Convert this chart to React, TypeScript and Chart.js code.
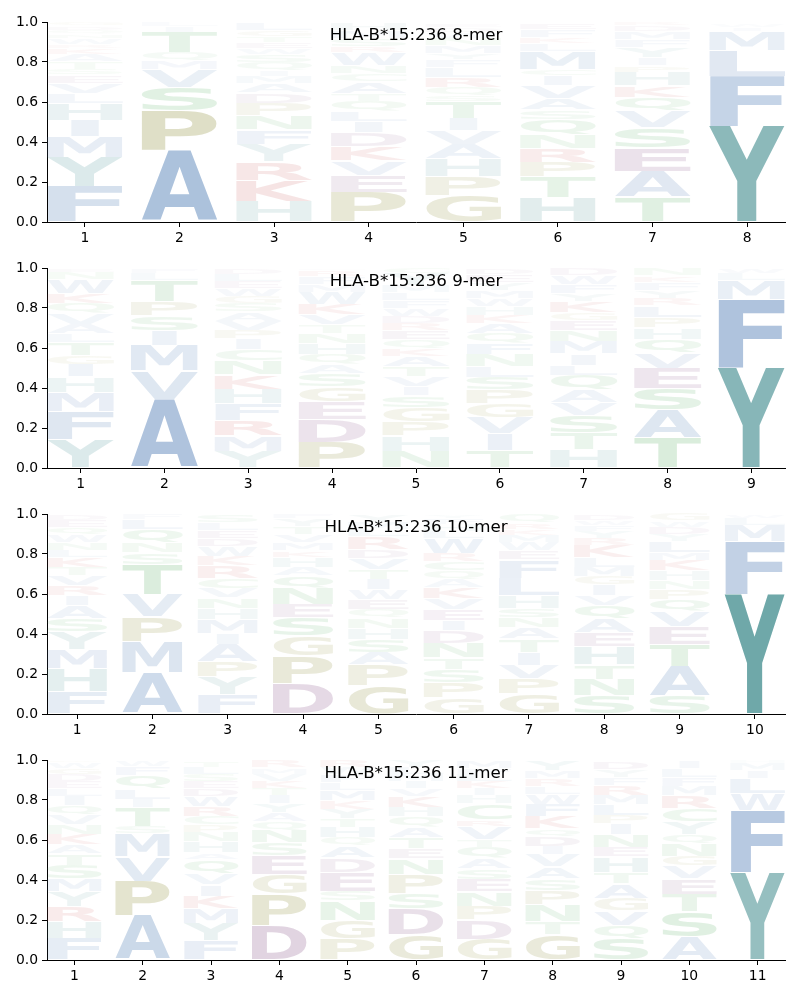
import React, { useEffect, useRef } from "react";
import { Chart, registerables } from "chart.js";

Chart.register(...registerables);

const ALLELE = "HLA-B*15:236";
const Y_TICKS = [0, 0.2, 0.4, 0.6, 0.8, 1.0];

// Each column: letters listed bottom -> top, with their heights (frequencies)
const LETTERS_8 = [
  "FYMIHLVESTAKRWNQDG",
  "APSVMQTIL",
  "HKRYFNPDAMIQSWETGL",
  "PEVKDILQTACNWRSMH",
  "GPHAVITSQRLFYMNWDE",
  "HTPRNQSAVICMLKFE",
  "TAESVQKHPIYFMDR",
  "YFLMIW",
];
const HEIGHTS_8 = [
  [0.18, 0.145, 0.105, 0.08, 0.085, 0.05, 0.05, 0.04, 0.03, 0.035, 0.04, 0.03, 0.02, 0.03, 0.02, 0.02, 0.02, 0.02],
  [0.355, 0.2, 0.12, 0.088, 0.045, 0.04, 0.1, 0.03, 0.022],
  [0.105, 0.105, 0.092, 0.087, 0.072, 0.072, 0.062, 0.05, 0.047, 0.037, 0.03, 0.04, 0.04, 0.03, 0.03, 0.03, 0.03, 0.04],
  [0.15, 0.085, 0.072, 0.072, 0.067, 0.058, 0.05, 0.05, 0.04, 0.058, 0.04, 0.04, 0.065, 0.03, 0.04, 0.04, 0.04],
  [0.133, 0.095, 0.087, 0.075, 0.067, 0.06, 0.083, 0.033, 0.042, 0.05, 0.047, 0.04, 0.033, 0.04, 0.035, 0.03, 0.025, 0.02],
  [0.122, 0.103, 0.075, 0.07, 0.068, 0.075, 0.047, 0.06, 0.062, 0.05, 0.033, 0.09, 0.04, 0.03, 0.04, 0.03],
  [0.125, 0.13, 0.118, 0.1, 0.083, 0.067, 0.058, 0.067, 0.033, 0.04, 0.05, 0.04, 0.04, 0.03, 0.02],
  [0.48, 0.25, 0.13, 0.095, 0.02, 0.015],
];

const LETTERS_9 = [
  "YFMHIGTLAVQKWNE",
  "AVMISPTLF",
  "YMRFHKNCIPVASGWELD",
  "PDEGSAQHNTVKWMFRL",
  "NHPGSIVTAKQERDWFLMYC",
  "TIVGPSLNFQAKHWMYED",
  "HTSVAQLIMNEGKYFWD",
  "TASEVQHPLRYFKN",
  "YFMLW",
];
const HEIGHTS_9 = [
  [0.143, 0.138, 0.097, 0.078, 0.062, 0.047, 0.063, 0.042, 0.05, 0.055, 0.05, 0.05, 0.067, 0.037, 0.02],
  [0.345, 0.142, 0.127, 0.075, 0.072, 0.072, 0.105, 0.037, 0.025],
  [0.083, 0.078, 0.078, 0.083, 0.073, 0.072, 0.07, 0.055, 0.053, 0.042, 0.047, 0.047, 0.042, 0.035, 0.04, 0.035, 0.035, 0.03],
  [0.13, 0.112, 0.09, 0.075, 0.065, 0.047, 0.05, 0.055, 0.05, 0.042, 0.05, 0.053, 0.06, 0.04, 0.04, 0.03, 0.01],
  [0.083, 0.078, 0.07, 0.07, 0.06, 0.045, 0.05, 0.05, 0.05, 0.04, 0.045, 0.045, 0.035, 0.035, 0.04, 0.04, 0.04, 0.035, 0.06, 0.03],
  [0.088, 0.085, 0.08, 0.07, 0.067, 0.065, 0.053, 0.06, 0.055, 0.05, 0.05, 0.042, 0.042, 0.04, 0.04, 0.04, 0.04, 0.03],
  [0.092, 0.083, 0.088, 0.065, 0.063, 0.073, 0.05, 0.058, 0.062, 0.055, 0.047, 0.04, 0.055, 0.04, 0.045, 0.045, 0.035],
  [0.15, 0.142, 0.108, 0.1, 0.078, 0.067, 0.058, 0.05, 0.058, 0.038, 0.04, 0.04, 0.032, 0.035],
  [0.5, 0.345, 0.095, 0.035, 0.025],
];

const LETTERS_10 = [
  "FHMYSAIRVTKLNWQED",
  "AMPVTSNQLF",
  "FYPAIMHNVCRKWDELS",
  "DPGSENQAHKMVTYF",
  "GPASHNQEWITVDRLMY",
  "GPSTNDIEVKAQCRWLHFY",
  "GPVITANSHLFEWMKRQ",
  "SNTHEAQVIGMLKRYFWD",
  "SATEVQPNHKMLYDWG",
  "YFMLW",
];
const HEIGHTS_10 = [
  [0.113, 0.113, 0.097, 0.088, 0.067, 0.063, 0.05, 0.05, 0.05, 0.042, 0.05, 0.037, 0.038, 0.04, 0.037, 0.035, 0.03],
  [0.208, 0.153, 0.125, 0.113, 0.147, 0.06, 0.05, 0.067, 0.05, 0.027],
  [0.097, 0.088, 0.078, 0.087, 0.055, 0.07, 0.055, 0.052, 0.047, 0.05, 0.063, 0.047, 0.047, 0.04, 0.04, 0.04, 0.04],
  [0.152, 0.137, 0.1, 0.092, 0.067, 0.08, 0.063, 0.042, 0.05, 0.033, 0.04, 0.04, 0.04, 0.04, 0.025],
  [0.143, 0.103, 0.062, 0.067, 0.055, 0.05, 0.042, 0.05, 0.05, 0.053, 0.05, 0.055, 0.045, 0.063, 0.035, 0.035, 0.04],
  [0.08, 0.078, 0.067, 0.057, 0.073, 0.063, 0.05, 0.055, 0.053, 0.055, 0.042, 0.042, 0.047, 0.042, 0.075, 0.035, 0.035, 0.03, 0.02],
  [0.1, 0.078, 0.067, 0.065, 0.065, 0.058, 0.05, 0.047, 0.063, 0.087, 0.092, 0.045, 0.042, 0.035, 0.03, 0.03, 0.045],
  [0.092, 0.083, 0.072, 0.092, 0.067, 0.07, 0.067, 0.05, 0.053, 0.042, 0.047, 0.047, 0.063, 0.035, 0.035, 0.03, 0.025, 0.03],
  [0.092, 0.147, 0.11, 0.087, 0.075, 0.063, 0.05, 0.045, 0.047, 0.053, 0.038, 0.058, 0.035, 0.035, 0.03, 0.035],
  [0.6, 0.265, 0.08, 0.035, 0.02],
];

const LETTERS_11 = [
  "FHRYMSTAKNVQILEDGWP",
  "APVMSTILQFW",
  "FYMKIVQAHNPCRWDESLT",
  "DPGESNQAYITKVMR",
  "PGNSEDAQHTYKMLFWR",
  "GDSPNETAQHKVIMLY",
  "GDPNESAQTVRCHIKLFM",
  "GTNPSAVIDQKFWLRMY",
  "SQVGATHENIPLMRFYD",
  "ASTEVGNQYCRMFLI",
  "YFWLIMH",
];
const HEIGHTS_11 = [
  [0.108, 0.083, 0.077, 0.075, 0.062, 0.07, 0.055, 0.047, 0.053, 0.047, 0.047, 0.047, 0.047, 0.04, 0.035, 0.035, 0.03, 0.03, 0.012],
  [0.222, 0.173, 0.122, 0.113, 0.038, 0.095, 0.042, 0.05, 0.067, 0.045, 0.03],
  [0.097, 0.088, 0.073, 0.062, 0.058, 0.055, 0.07, 0.033, 0.055, 0.047, 0.038, 0.043, 0.05, 0.05, 0.04, 0.035, 0.035, 0.035, 0.03],
  [0.172, 0.157, 0.1, 0.095, 0.062, 0.062, 0.045, 0.045, 0.045, 0.042, 0.035, 0.035, 0.035, 0.032, 0.035],
  [0.105, 0.095, 0.095, 0.05, 0.095, 0.07, 0.06, 0.042, 0.053, 0.043, 0.047, 0.042, 0.05, 0.04, 0.04, 0.035, 0.035],
  [0.13, 0.125, 0.078, 0.095, 0.078, 0.05, 0.058, 0.053, 0.05, 0.047, 0.055, 0.04, 0.035, 0.035, 0.035, 0.035],
  [0.105, 0.095, 0.07, 0.072, 0.062, 0.053, 0.05, 0.058, 0.04, 0.065, 0.033, 0.078, 0.042, 0.035, 0.035, 0.035, 0.032, 0.04],
  [0.13, 0.063, 0.083, 0.072, 0.058, 0.06, 0.06, 0.043, 0.05, 0.038, 0.06, 0.063, 0.05, 0.04, 0.04, 0.04, 0.05],
  [0.105, 0.07, 0.072, 0.062, 0.073, 0.058, 0.077, 0.047, 0.063, 0.053, 0.043, 0.055, 0.047, 0.05, 0.04, 0.038, 0.04],
  [0.117, 0.125, 0.088, 0.078, 0.062, 0.05, 0.063, 0.047, 0.063, 0.067, 0.063, 0.047, 0.045, 0.042, 0.04],
  [0.44, 0.31, 0.085, 0.075, 0.04, 0.035, 0.015],
];

const PANELS = [
  { n: 8, letters: LETTERS_8, heights: HEIGHTS_8 },
  { n: 9, letters: LETTERS_9, heights: HEIGHTS_9 },
  { n: 10, letters: LETTERS_10, heights: HEIGHTS_10 },
  { n: 11, letters: LETTERS_11, heights: HEIGHTS_11 },
];

// Colour groups
const BLUE = [100, 140, 190];
const TEAL = [95, 158, 160];
const OLIVE = [150, 150, 70];
const RED = [200, 80, 80];
const PURPLE = [140, 90, 140];
const GREEN = [90, 175, 100];
const GROUP_COLOR: Record<string, number[]> = {};
"AVLIMFW".split("").forEach((c) => (GROUP_COLOR[c] = BLUE));
"YH".split("").forEach((c) => (GROUP_COLOR[c] = TEAL));
"PG".split("").forEach((c) => (GROUP_COLOR[c] = OLIVE));
"KR".split("").forEach((c) => (GROUP_COLOR[c] = RED));
"DE".split("").forEach((c) => (GROUP_COLOR[c] = PURPLE));
"STNQC".split("").forEach((c) => (GROUP_COLOR[c] = GREEN));

function letterFill(ch: string, h: number) {
  const [r, g, b] = GROUP_COLOR[ch] || [128, 128, 128];
  const a = Math.min(1, 1.5 * h);
  return `rgba(${r},${g},${b},${a.toFixed(3)})`;
}

const GLYPH_FONT = 'bold 100px "DejaVu Sans"';

const logoPlugin = {
  id: "logoLetters",
  afterDatasetsDraw(chart: any) {
    const ctx: CanvasRenderingContext2D = chart.ctx;
    ctx.save();
    ctx.font = GLYPH_FONT;
    ctx.textAlign = "left";
    ctx.textBaseline = "alphabetic";
    const eM = ctx.measureText("E");
    const eW = eM.actualBoundingBoxLeft + eM.actualBoundingBoxRight;
    chart.data.datasets.forEach((ds: any, di: number) => {
      const meta = chart.getDatasetMeta(di);
      meta.data.forEach((el: any, i: number) => {
        const ch = ds.letters[i];
        const h = ds.data[i].y;
        if (!ch || !(h > 0)) return;
        const { x, y, base, width } = el.getProps(["x", "y", "base", "width"], true);
        const top = Math.min(y, base);
        const bottom = Math.max(y, base);
        const pad = 0.5;
        const boxH = bottom - top - 2 * pad;
        if (boxH <= 0) return;
        const m = ctx.measureText(ch);
        const gw = m.actualBoundingBoxLeft + m.actualBoundingBoxRight;
        const gh = m.actualBoundingBoxAscent + m.actualBoundingBoxDescent;
        const sx = Math.min(width / gw, width / eW);
        const sy = boxH / gh;
        ctx.save();
        ctx.translate(x, bottom - pad);
        ctx.scale(sx, sy);
        ctx.fillStyle = letterFill(ch, h);
        ctx.fillText(ch, -(m.actualBoundingBoxRight - m.actualBoundingBoxLeft) / 2, -m.actualBoundingBoxDescent);
        ctx.restore();
      });
    });
    ctx.restore();
  },
};

const titlePlugin = {
  id: "logoTitle",
  afterDraw(chart: any, _args: any, opts: any) {
    const { ctx, chartArea } = chart;
    ctx.save();
    ctx.font = '16.7px "DejaVu Sans"';
    ctx.fillStyle = "#000";
    ctx.textAlign = "center";
    ctx.textBaseline = "middle";
    ctx.fillText(opts.text, (chartArea.left + chartArea.right) / 2, chartArea.top + 14);
    ctx.restore();
  },
};

function buildDatasets(letters: string[], heights: number[][]) {
  const layers = Math.max(...letters.map((s) => s.length));
  const out: any[] = [];
  for (let k = 0; k < layers; k++) {
    out.push({
      label: `layer ${k}`,
      data: letters.map((_s, i) => ({ x: i + 1, y: heights[i][k] ?? 0 })),
      letters: letters.map((s) => s[k] ?? ""),
      backgroundColor: "rgba(0,0,0,0)",
      borderWidth: 0,
      barPercentage: 1,
      categoryPercentage: 0.8,
      stack: "logo",
    });
  }
  return out;
}

const TICK_FONT = { family: "DejaVu Sans", size: 13.9 };

function LogoPanel({ n, letters, heights }: { n: number; letters: string[]; heights: number[][] }) {
  const ref = useRef<HTMLCanvasElement>(null);
  useEffect(() => {
    if (!ref.current) return;
    const positions = letters.map((_s, i) => i + 1);
    const chart = new Chart(ref.current, {
      type: "bar",
      data: { datasets: buildDatasets(letters, heights) },
      options: {
        responsive: false,
        animation: false,
        events: [],
        layout: { padding: { top: 22, right: 15, left: 0, bottom: 0 } },
        plugins: {
          legend: { display: false },
          tooltip: { enabled: false },
          logoTitle: { text: `${ALLELE} ${n}-mer` },
        } as any,
        scales: {
          x: {
            type: "linear",
            stacked: true,
            min: 0.6,
            max: n + 0.4,
            offset: false,
            afterBuildTicks: (s: any) => {
              s.ticks = positions.map((v) => ({ value: v }));
            },
            afterFit: (s: any) => {
              s.height = 24;
            },
            ticks: {
              color: "#000",
              font: TICK_FONT,
              padding: 3,
              maxRotation: 0,
              autoSkip: false,
              callback: (v: any) => String(v),
            },
            grid: { display: true, drawOnChartArea: false, drawTicks: true, tickLength: 5, color: "#000", offset: false },
            border: { display: true, color: "#000", width: 1 },
          },
          y: {
            type: "linear",
            stacked: true,
            min: 0,
            max: 1,
            afterBuildTicks: (s: any) => {
              s.ticks = Y_TICKS.map((v) => ({ value: v }));
            },
            afterFit: (s: any) => {
              s.width = 47;
            },
            ticks: {
              color: "#000",
              font: TICK_FONT,
              padding: 4,
              callback: (v: any) => Number(v).toFixed(1),
            },
            grid: { display: true, drawOnChartArea: false, drawTicks: true, tickLength: 5, color: "#000" },
            border: { display: true, color: "#000", width: 1 },
          },
        } as any,
      },
      plugins: [logoPlugin, titlePlugin],
    } as any);
    return () => chart.destroy();
  }, [n, letters, heights]);
  return <canvas ref={ref} width={800} height={246} style={{ display: "block", width: 800, height: 246 }} />;
}

export default function App() {
  return (
    <div style={{ position: "absolute", left: 0, top: 0, width: 800, height: 1000, background: "#fff" }}>
      {PANELS.map((p) => (
        <LogoPanel key={p.n} n={p.n} letters={p.letters} heights={p.heights} />
      ))}
    </div>
  );
}
